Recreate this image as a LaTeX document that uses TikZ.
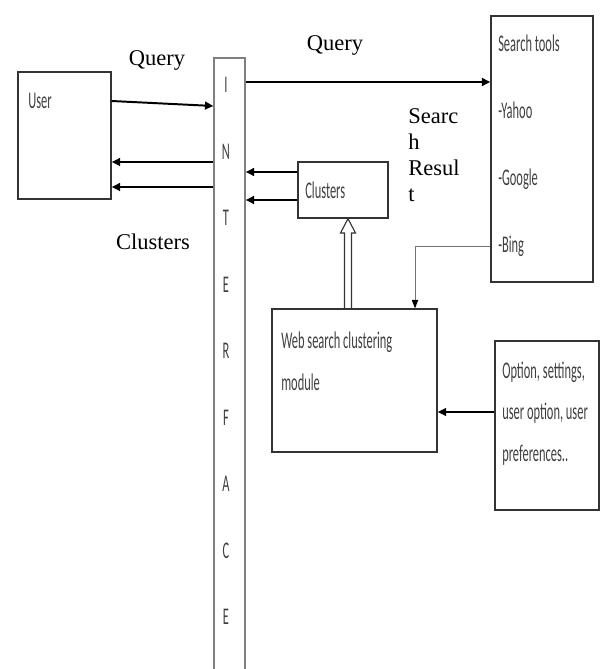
\documentclass[tikz,border=0pt]{standalone}
\usepackage{fontspec}
\setmainfont{Liberation Serif}
\newfontfamily\boxfont[FakeStretch=0.52]{Carlito}
\usepackage{tikz}
\usetikzlibrary{positioning, arrows.meta, calc}
\usepackage{xcolor}

\begin{document}
\begin{tikzpicture}[x=0.025cm, y=-0.025cm,
  blk/.style={draw=black!80, line width=0.9pt, rectangle, inner sep=0pt},
  boxtxt/.style={anchor=west, inner sep=0pt, align=left, text=black!75, font=\boxfont\fontsize{17pt}{30pt}\selectfont},
  lbl/.style={inner sep=0pt, font=\fontsize{16pt}{18.6pt}\selectfont},
  arr/.style={-{Triangle[length=6pt, width=5.5pt]}, line width=1.4pt}]
  \clip (0,0) rectangle (601,669);

  % boxes
  \node[blk, minimum width=2.325cm, minimum height=3.175cm] (user) at (64.5,135.5) {};
  \node[blk, draw=black!50, minimum width=0.775cm, minimum height=16.05cm] (iface) at (229.5,379) {};
  \node[blk, minimum width=2.25cm, minimum height=1.4cm] (clus) at (343,190) {};
  \node[blk, minimum width=2.55cm, minimum height=6.65cm] (tools) at (542,149) {};
  \node[blk, minimum width=4.125cm, minimum height=3.575cm] (web) at (354.5,380.5) {};
  \node[blk, minimum width=2.6cm, minimum height=4.225cm] (opts) at (547,425.5) {};

  % texts in the boxes
  \node[boxtxt] (usertxt) at (28,101) {User};
  \node[boxtxt] (clustxt) at (305,190) {Clusters};
  \node[boxtxt, font=\boxfont\fontsize{17pt}{47.6pt}\selectfont] (toolstxt) at (498,146) {Search tools\\-Yahoo\\-Google\\-Bing};
  \node[boxtxt] (webtxt) at (281,361) {Web search clustering\\module};
  \node[boxtxt, font=\boxfont\fontsize{17pt}{29.4pt}\selectfont] (optstxt) at (502,413.5) {Option, settings,\\user option, user\\preferences..};
  \foreach \l [count=\i from 0] in {I,N,T,E,R,F,A,C,E}
    \node[boxtxt, anchor=center] (if\i) at (226,85+66.5*\i) {\l};

  % labels
  \node[lbl] (q1) at (157,60) {Query};
  \node[lbl] (q2) at (335,45) {Query};
  \node[lbl] (cl) at (153,242) {Clusters};
  \node[lbl, anchor=west, align=left] (res) at (408,155) {Searc\\h\\Resul\\t};

  % connectors
  \draw[arr] (user.east |- 0,101) -- (iface.west |- 0,106);
  \draw[arr] (iface.west |- 0,162) -- (user.east |- 0,162);
  \draw[arr] (iface.west |- 0,187) -- (user.east |- 0,187);
  \draw[arr] (clus.west |- 0,172) -- (iface.east |- 0,172);
  \draw[arr] (clus.west |- 0,200) -- (iface.east |- 0,200);
  \draw[arr] (iface.east |- 0,82) -- (tools.west |- 0,82);
  \draw[arr] (opts.west |- 0,412) -- (web.east |- 0,412);
  \draw[-{Triangle[length=6pt, width=4.5pt, color=black]}, black!55, line width=0.6pt] (tools.west |- 0,246) -| (web.north -| 415,0);
  \draw[black!80, line width=0.8pt] (web.north -| 344.5,0) |- (340.5,233) -- (clus.south -| 348,0) -- (355.5,233) -| (web.north -| 351.5,0);
\end{tikzpicture}
\end{document}
